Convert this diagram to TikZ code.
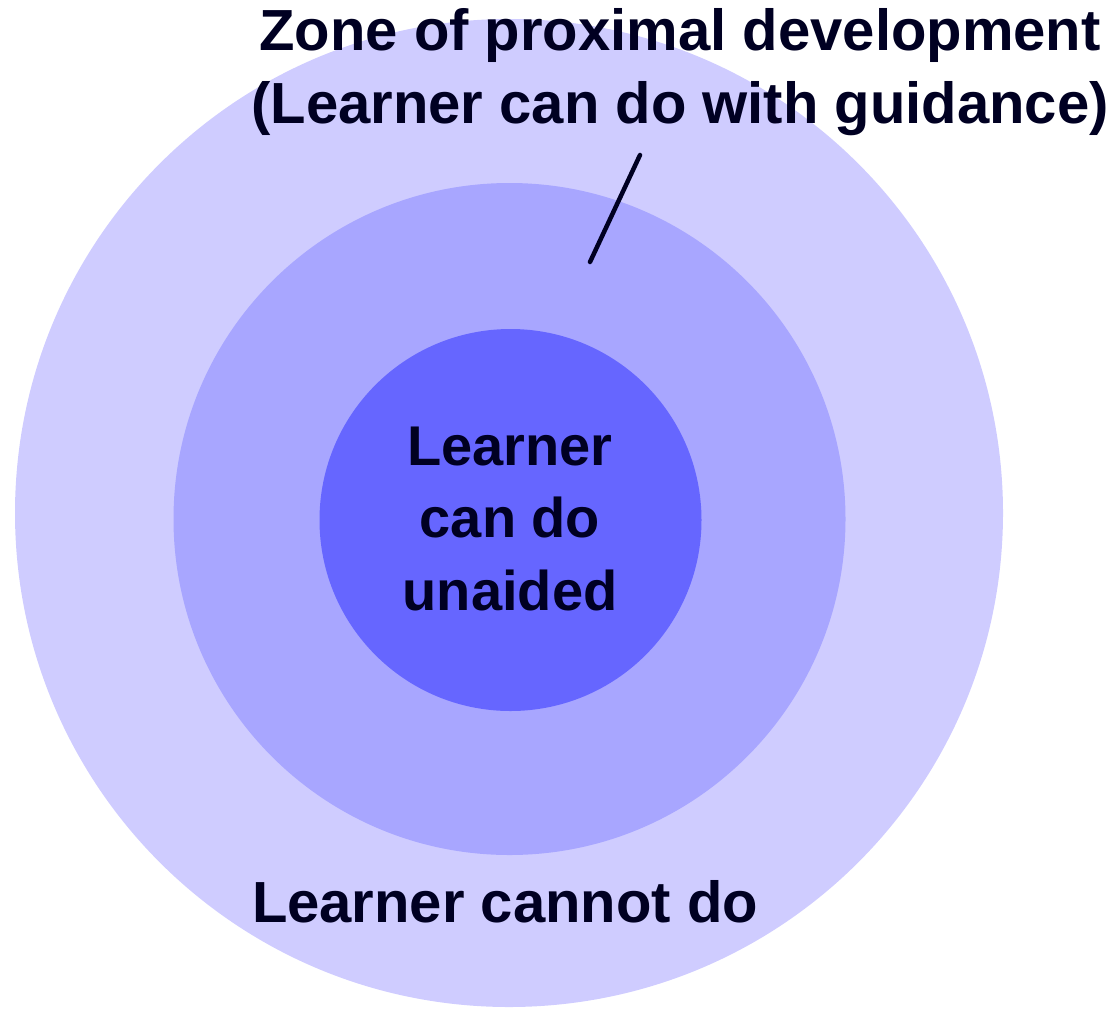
\documentclass[tikz,border=0pt]{standalone}
\usepackage{fontspec}
\setmainfont{Liberation Sans}
\definecolor{outerc}{HTML}{CFCCFF}
\definecolor{midc}{HTML}{A8A6FF}
\definecolor{innerc}{HTML}{6666FF}
\definecolor{inkc}{HTML}{000022}
\tikzset{
  zone/.style={circle, draw=none, inner sep=0pt},
  lbl/.style={text=inkc, font=\bfseries, align=center, inner sep=0pt, anchor=base},
}
\begin{document}
\begin{tikzpicture}[x=1pt,y=-1pt]
\useasboundingbox (0,0) rectangle (1115,1010);
\node[zone, fill=outerc, minimum size=988pt] (outer) at (509,513) {};
\node[zone, fill=midc, minimum size=672pt] (middle) at (509.5,519) {};
\node[zone, fill=innerc, minimum size=382pt] (inner) at (510.5,520) {};
\node[lbl, font=\bfseries\fontsize{58}{73}\selectfont] (zpd) at (680,123) {Zone of proximal development\\(Learner can do with guidance)};
\node[lbl, font=\bfseries\fontsize{56}{72.5}\selectfont] (unaided) at (510,610) {Learner\\can do\\unaided};
\node[lbl, font=\bfseries\fontsize{58}{70}\selectfont] (cannot) at (505,922) {Learner cannot do};
\coordinate (ptrTop) at (640,155);
\coordinate (ptrEnd) at (590,262);
\draw[inkc, line width=4.5pt, line cap=round] (ptrTop) -- (ptrEnd);
\end{tikzpicture}
\end{document}
